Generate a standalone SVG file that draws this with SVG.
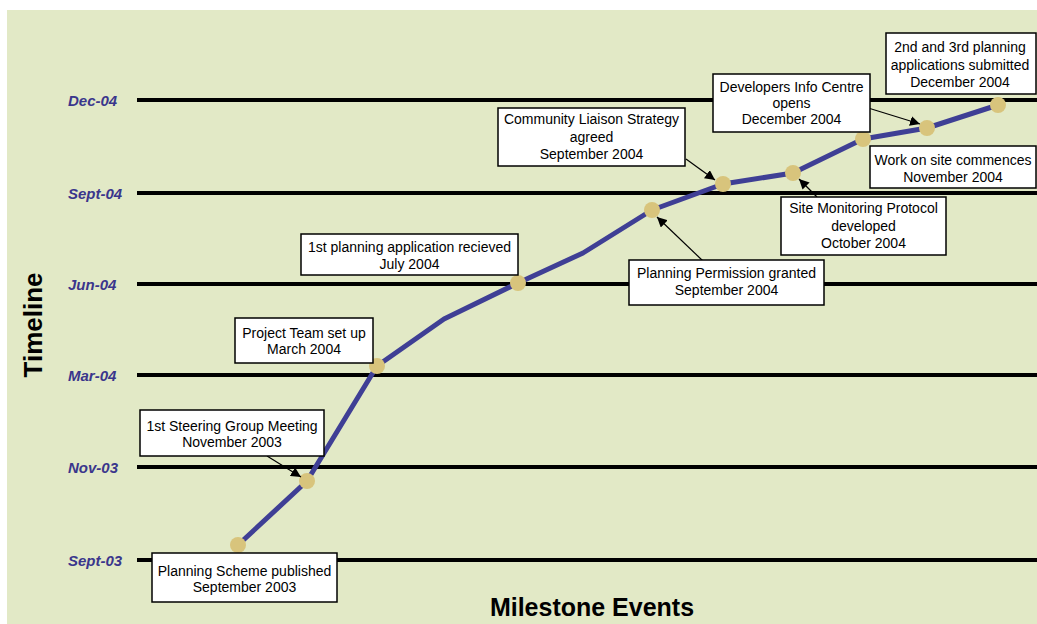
<svg xmlns="http://www.w3.org/2000/svg" width="1037" height="624" viewBox="0 0 1037 624">
<defs>
<style>
.bg{fill:#e2e9c6}
.grid{stroke:#000;stroke-width:4}
.ax{font-family:"Liberation Sans",Arial,sans-serif;font-size:15px;font-weight:bold;font-style:italic;fill:#3a368c}
.title{font-family:"Liberation Sans",Arial,sans-serif;font-weight:bold;fill:#000}
.box{fill:#fff;stroke:#000;stroke-width:1.5}
.lbl{font-family:"Liberation Sans",Arial,sans-serif;font-size:14px;fill:#000;text-anchor:middle}
.trend{fill:none;stroke:#3f3f95;stroke-width:5;stroke-linejoin:round}
.dot{fill:#d8c47c}
.arr{stroke:#000;stroke-width:1.2;fill:none;marker-end:url(#ah)}
</style>
<marker id="ah" viewBox="0 0 10 10" refX="10" refY="5" markerWidth="10" markerHeight="10" markerUnits="userSpaceOnUse" orient="auto">
<path d="M0,0 L10,5 L0,10 z" fill="#000"/>
</marker>
</defs>
<rect x="0" y="0" width="1037" height="624" fill="#fff"/>
<rect class="bg" x="7" y="10" width="1030" height="614"/>
<g id="gridlines">
<line class="grid" x1="137" y1="100" x2="1037" y2="100"/>
<line class="grid" x1="137" y1="193" x2="1037" y2="193"/>
<line class="grid" x1="137" y1="284" x2="1037" y2="284"/>
<line class="grid" x1="137" y1="375" x2="1037" y2="375"/>
<line class="grid" x1="137" y1="467" x2="1037" y2="467"/>
<line class="grid" x1="137" y1="560" x2="1037" y2="560"/>
</g>
<g id="axis-labels">
<text class="ax" x="68" y="106">Dec-04</text>
<text class="ax" x="68" y="199">Sept-04</text>
<text class="ax" x="68" y="290">Jun-04</text>
<text class="ax" x="68" y="381">Mar-04</text>
<text class="ax" x="68" y="473">Nov-03</text>
<text class="ax" x="68" y="566">Sept-03</text>
<text class="title" font-size="26" text-anchor="middle" transform="translate(42,325) rotate(-90)">Timeline</text>
<text class="title" font-size="25" x="592" y="616" text-anchor="middle">Milestone Events</text>
</g>
<g id="trend">
<polyline class="trend" points="238,545 307,481 377,366 444,319 518,283 583,253 652,210 723,184 793,173 863,139 927,128 998,105"/>
<circle class="dot" cx="238" cy="545" r="8"/>
<circle class="dot" cx="307" cy="481" r="8"/>
<circle class="dot" cx="377" cy="366" r="8"/>
<circle class="dot" cx="518" cy="283" r="8"/>
<circle class="dot" cx="652" cy="210" r="8"/>
<circle class="dot" cx="723" cy="184" r="8"/>
<circle class="dot" cx="793" cy="173" r="8"/>
<circle class="dot" cx="863" cy="139" r="8"/>
<circle class="dot" cx="927" cy="128" r="8"/>
<circle class="dot" cx="998" cy="105" r="8"/>
</g>
<g id="connectors">
<line class="arr" x1="267" y1="456" x2="301" y2="477"/>
<line class="arr" x1="686" y1="159" x2="715" y2="180"/>
<line class="arr" x1="865" y1="107" x2="920" y2="124"/>
<line class="arr" x1="817" y1="197" x2="799" y2="179"/>
<line class="arr" x1="703" y1="261" x2="657" y2="217"/>
</g>
<g id="n-planning-scheme">
<rect class="box" x="152" y="553" width="185" height="49"/>
<text class="lbl" x="244.5" y="576">Planning Scheme published</text>
<text class="lbl" x="244.5" y="592">September 2003</text>
</g>
<g id="n-steering">
<rect class="box" x="140" y="410" width="184" height="46"/>
<text class="lbl" x="232" y="431">1st Steering Group Meeting</text>
<text class="lbl" x="232" y="447">November 2003</text>
</g>
<g id="n-project-team">
<rect class="box" x="235" y="318" width="138" height="45"/>
<text class="lbl" x="304" y="338">Project Team set up</text>
<text class="lbl" x="304" y="354">March 2004</text>
</g>
<g id="n-first-app">
<rect class="box" x="301" y="234" width="217" height="41"/>
<text class="lbl" x="409.5" y="252">1st planning application recieved</text>
<text class="lbl" x="409.5" y="269">July 2004</text>
</g>
<g id="n-permission">
<rect class="box" x="629" y="260" width="195" height="45"/>
<text class="lbl" x="726.5" y="278">Planning Permission granted</text>
<text class="lbl" x="726.5" y="295">September 2004</text>
</g>
<g id="n-community">
<rect class="box" x="498" y="108" width="187" height="58"/>
<text class="lbl" x="591.5" y="124">Community Liaison Strategy</text>
<text class="lbl" x="591.5" y="142">agreed</text>
<text class="lbl" x="591.5" y="159">September 2004</text>
</g>
<g id="n-site-monitoring">
<rect class="box" x="781" y="197" width="165" height="58"/>
<text class="lbl" x="863.5" y="213">Site Monitoring Protocol</text>
<text class="lbl" x="863.5" y="231">developed</text>
<text class="lbl" x="863.5" y="248">October 2004</text>
</g>
<g id="n-developers">
<rect class="box" x="713" y="74" width="157" height="58"/>
<text class="lbl" x="791.5" y="92">Developers Info Centre</text>
<text class="lbl" x="791.5" y="108">opens</text>
<text class="lbl" x="791.5" y="124">December 2004</text>
</g>
<g id="n-work-on-site">
<rect class="box" x="870" y="146" width="166" height="42"/>
<text class="lbl" x="953" y="165">Work on site commences</text>
<text class="lbl" x="953" y="182">November 2004</text>
</g>
<g id="n-second-third">
<rect class="box" x="886" y="33" width="150" height="61"/>
<text class="lbl" x="960" y="52">2nd and 3rd planning</text>
<text class="lbl" x="960" y="70">applications submitted</text>
<text class="lbl" x="960" y="87">December 2004</text>
</g>
</svg>
